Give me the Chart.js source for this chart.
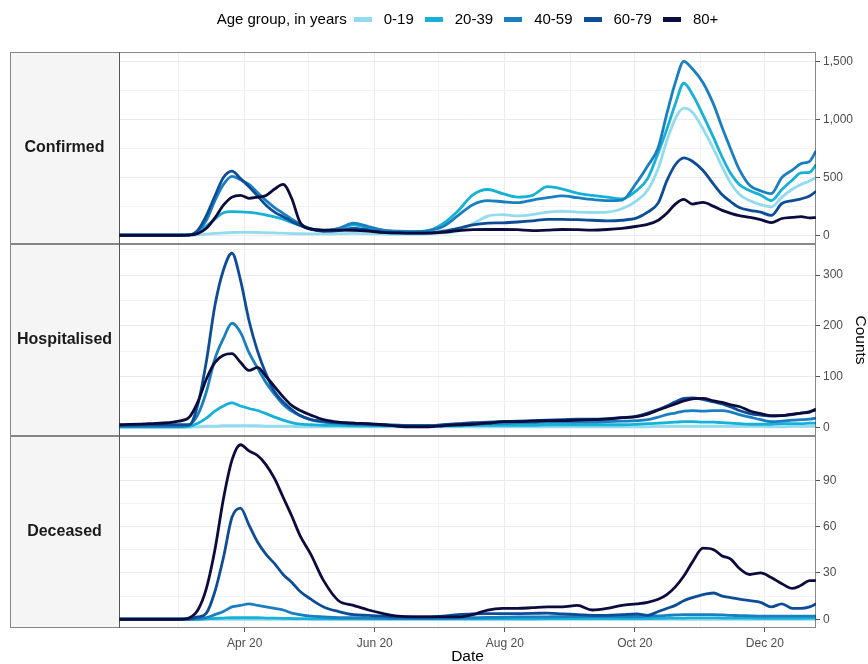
<!DOCTYPE html>
<html>
<head>
<meta charset="utf-8">
<script src="https://cdn.jsdelivr.net/npm/chart.js@4.4.1/dist/chart.umd.min.js"></script>
<style>
  html, body { margin: 0; padding: 0; background: #ffffff; }
  #wrap { position: relative; width: 868px; height: 664px; font-family: "Liberation Sans", Arial, sans-serif; }
  #chart { position: absolute; left: 0; top: 0; }
  #legend { position: absolute; left: 119px; width: 697px; top: 10px; height: 18px;
            display: flex; justify-content: center; align-items: center;
            font-size: 15px; line-height: 18px; color: #000; white-space: nowrap; }
  #legend .title { margin-right: 7px; }
  #legend .key { display: inline-block; width: 18px; height: 5px; margin-right: 12px; }
  #legend .lab { margin-right: 11px; }
  #legend .lab:last-child { margin-right: 0; }
</style>
</head>
<body>
<div id="wrap">
  <canvas id="chart" width="868" height="664"></canvas>
  <div id="legend"></div>
</div>
<script>
// ---- data -------------------------------------------------------------
const dates = [
  '2020-02-02','2020-02-16','2020-03-01','2020-03-06','2020-03-10','2020-03-14','2020-03-18','2020-03-22','2020-03-26','2020-03-30',
  '2020-04-03','2020-04-07','2020-04-11','2020-04-15','2020-04-19','2020-04-23','2020-04-27','2020-05-02','2020-05-08','2020-05-15',
  '2020-05-22','2020-05-29','2020-06-05','2020-06-12','2020-06-19','2020-06-26','2020-07-03','2020-07-10','2020-07-17','2020-07-24',
  '2020-07-31','2020-08-07','2020-08-14','2020-08-21','2020-08-28','2020-09-04','2020-09-11','2020-09-18','2020-09-25','2020-10-02',
  '2020-10-07','2020-10-12','2020-10-16','2020-10-20','2020-10-24','2020-10-28','2020-11-02','2020-11-07','2020-11-11','2020-11-15',
  '2020-11-19','2020-11-24','2020-11-29','2020-12-04','2020-12-09','2020-12-14','2020-12-18','2020-12-22','2020-12-25'
];

const ageGroups = ['0-19', '20-39', '40-59', '60-79', '80+'];
const facetNames = ['Confirmed', 'Hospitalised', 'Deceased'];

// month starts used as date breaks; labelled ones get "Mon YY"
const monthBreaks = ['2020-03-01','2020-04-01','2020-05-01','2020-06-01','2020-07-01',
                     '2020-08-01','2020-09-01','2020-10-01','2020-11-01','2020-12-01'];
const labelledMonths = ['2020-04-01','2020-06-01','2020-08-01','2020-10-01','2020-12-01'];

// Confirmed cases
const confirmed0to19 = [0,0,0,1,4,10,16,21,24,25, 25,24,22,20,18,15,13,12,12,14, 16,14,12,10,10,12,20,35,100,165,
  178,168,180,200,208,200,197,200,230,300, 390,580,815,1010,1100,1065,920,745,590,450, 355,298,265,245,330,400,440,470,500];
const confirmed20to39 = [0,0,0,3,25,80,140,195,205,203, 198,190,175,160,140,110,85,55,42,55, 90,65,40,33,32,40,100,210,350,396,
  360,330,345,420,400,365,345,330,315,390, 490,715,916,1135,1315,1220,1040,842,675,534, 440,385,348,300,395,480,540,545,610];
const confirmed40to59 = [0,0,0,3,35,130,300,440,510,480, 440,370,300,240,190,140,95,55,40,60, 105,75,45,35,32,40,75,170,265,300,
  290,282,305,325,340,325,310,300,305,460, 600,760,1050,1320,1505,1440,1320,1130,930,745, 570,430,385,360,500,565,620,640,730];
const confirmed60to79 = [0,0,0,3,45,170,340,500,555,490, 420,340,260,200,160,120,85,50,35,40, 60,45,25,20,18,20,35,60,90,105,
  108,115,125,138,138,135,130,125,130,150, 200,280,470,610,670,640,560,440,350,290, 240,215,200,172,275,300,315,340,380];
const confirmed80plus = [0,0,0,1,15,60,150,260,330,345, 320,330,345,400,440,320,110,55,45,45, 42,35,25,20,18,18,25,40,48,50,
  50,48,40,45,50,48,45,50,60,78, 95,130,190,270,310,270,285,250,215,190, 170,155,135,110,145,155,162,150,153];

// Hospitalisations
const hospitalised0to19 = [0,0,0,0,1,2,2,3,3,3, 3,3,2,2,2,2,1,1,1,1, 1,1,1,1,1,1,1,1,1,1,
  1,1,1,1,1,1,1,1,1,1, 1,2,2,2,2,2,2,2,2,2, 2,2,2,1,1,2,2,2,2];
const hospitalised20to39 = [1,1,1,2,8,18,32,42,48,42, 37,33,27,20,14,9,6,5,4,4, 3,3,3,3,3,3,3,3,4,4,
  4,4,4,5,5,5,5,5,5,6, 7,8,9,10,11,11,10,10,9,8, 7,6,6,6,7,7,7,8,8];
const hospitalised40to59 = [2,2,2,5,25,70,135,175,205,187, 147,117,88,65,45,32,23,15,10,8, 6,5,4,3,3,3,4,5,6,7,
  8,9,9,10,10,10,10,11,12,13, 15,20,25,28,32,33,32,33,33,30, 25,20,15,11,12,14,15,16,18];
const hospitalised60to79 = [4,5,5,5,45,130,240,310,343,290, 210,150,105,70,50,35,23,15,12,9, 8,6,5,4,3,3,5,7,9,10,
  11,12,13,14,15,16,16,17,19,22, 28,35,42,50,57,58,55,50,46,40, 33,27,24,22,23,25,28,31,34];
const hospitalised80plus = [5,7,12,20,50,95,128,142,145,128, 112,118,100,80,60,43,33,24,15,10, 8,7,5,2,1,1,3,5,6,8,
  11,11,12,13,13,14,15,16,19,21, 26,34,40,46,52,56,57,52,49,44, 41,32,27,23,23,26,28,30,36];

// Deaths
const deceased0to19 = [0,0,0,0,0,0,0,0,0,0, 0,0,0,0,0,0,0,0,0,0, 0,0,0,0,0,0,0,0,0,0,
  0,0,0,0,0,0,0,0,0,0, 0,0,0,0,0,0,0,0,0,0, 0,0,0,0,0,0,0,0,0];
const deceased20to39 = [0,0,0,0,0,0.3,0.5,0.8,1,1, 1,1,0.8,0.7,0.6,0.5,0.4,0.3,0.3,0.2, 0.2,0.2,0.2,0.2,0.2,0.2,0.2,0.2,0.3,0.3,
  0.3,0.3,0.3,0.4,0.4,0.4,0.4,0.4,0.4,0.5, 0.5,0.6,0.7,0.8,0.8,0.9,0.9,0.9,0.8,0.8, 0.7,0.7,0.6,0.6,0.6,0.6,0.6,0.7,0.7];
const deceased40to59 = [0,0,0,0,0.3,1,3,5,8,9, 10,9,8,7,6,4,3,2,1.5,1, 1,0.8,0.6,0.5,0.5,0.5,0.6,0.8,1,1.2,
  1.3,1.5,1.5,1.6,1.7,1.7,1.8,1.8,1.8,1.8, 2,2.2,2.5,2.8,3,3,3,3,2.8,2.5, 2.4,2.2,2,2,2,2,2,2,2];
const deceased60to79 = [0,0,0,0.3,1.5,4,18,40,66,72, 61,50,42,36,29,24,18,13,8,5, 3,2.5,2,1.5,1.5,1.5,2,3,3.5,3.7,
  3.7,3.7,3.8,4,3.5,3,2.5,2.5,3,3.5, 2.5,5,7,9,12,14,16,17,15,14, 13,12,11,8,10,7,7,8,10];
const deceased80plus = [0,0,0,1,6,20,45,78,103,113, 109,106,100,91,79,67,54,42,25,12, 9,6,3.7,2,1.5,1.5,1.5,1.5,3,6,
  7,7,7.5,8,8,9,6,7,9,10, 11,13,16,21,28,37,46,45,41,39, 33,29,30,27,23,20,22,25,25];

// ---- helpers ----------------------------------------------------------
const DAY = 864e5;
const dayOf = s => (Date.UTC(+s.slice(0, 4), +s.slice(5, 7) - 1, +s.slice(8, 10)) - Date.UTC(2020, 0, 1)) / DAY;
const MONTHS = ['Jan','Feb','Mar','Apr','May','Jun','Jul','Aug','Sep','Oct','Nov','Dec'];
const labelledDays = labelledMonths.map(dayOf);
const isLabelledDay = v => labelledDays.some(d => Math.abs(d - v) < 0.01);
const dayLabel = v => {
  const dt = new Date(Date.UTC(2020, 0, 1) + v * DAY);
  return MONTHS[dt.getUTCMonth()] + ' ' + String(dt.getUTCFullYear()).slice(2);
};

const colours = ['#93DBEF', '#17B1D8', '#1A7FC1', '#0D4C96', '#0B0C3D'];

const facets = [
  { id: 'yConfirmed',    min: -75.5, max: 1585.5, major: 500, minor: 250,
    series: [confirmed0to19, confirmed20to39, confirmed40to59, confirmed60to79, confirmed80plus] },
  { id: 'yHospitalised', min: -17.2, max: 361.2,  major: 100, minor: 50,
    series: [hospitalised0to19, hospitalised20to39, hospitalised40to59, hospitalised60to79, hospitalised80plus] },
  { id: 'yDeceased',     min: -5.65, max: 118.65, major: 30,  minor: 15,
    series: [deceased0to19, deceased20to39, deceased40to59, deceased60to79, deceased80plus] }
];

// ---- legend (HTML) ----------------------------------------------------
const legend = document.getElementById('legend');
legend.innerHTML = '<span class="title">Age group, in years</span>' +
  ageGroups.map((g, i) => '<span class="key" style="background:' + colours[i] + '"></span><span class="lab">' + g + '</span>').join('');

// ---- chart ------------------------------------------------------------
Chart.defaults.font.family = "'Liberation Sans', Arial, sans-serif";

const xDays = dates.map(dayOf);
const datasets = [];
facets.forEach((f, fi) => {
  f.series.forEach((vals, g) => {
    datasets.push({
      label: facetNames[fi] + ' ' + ageGroups[g],
      data: vals.map((y, k) => ({ x: xDays[k], y })),
      xAxisID: 'x',
      yAxisID: f.id,
      borderColor: colours[g],
      backgroundColor: colours[g],
      borderWidth: 2.8,
      pointRadius: 0,
      fill: false,
      cubicInterpolationMode: 'monotone',
      order: ageGroups.length - g
    });
  });
});

const gridColour = (major) => major ? '#EBEBEB' : '#F3F3F3';

const scales = {
  x: {
    type: 'linear', position: 'bottom',
    min: dayOf(dates[0]), max: dayOf(dates[dates.length - 1]),
    afterFit: s => { s.height = 36; },
    afterBuildTicks: s => { s.ticks = monthBreaks.map(d => ({ value: dayOf(d) })); },
    grid: {
      color: c => gridColour(c.tick && isLabelledDay(c.tick.value)),
      lineWidth: 1,
      tickLength: 4,
      tickColor: c => (c.tick && isLabelledDay(c.tick.value)) ? '#555555' : 'rgba(0,0,0,0)'
    },
    border: { display: false },
    ticks: {
      autoSkip: false, maxRotation: 0, padding: 4, color: '#4D4D4D', font: { size: 12 },
      callback: v => isLabelledDay(v) ? dayLabel(v) : ''
    },
    title: { display: true, text: 'Date', color: '#000000', font: { size: 15.5, lineHeight: 1 }, padding: { top: 0, bottom: 0 } }
  }
};

facets.forEach((f, i) => {
  scales[f.id] = {
    type: 'linear', position: 'right', stack: 'facets', stackWeight: 1, weight: i,
    min: f.min, max: f.max,
    afterFit: s => { s.width = 52; },
    afterBuildTicks: s => {
      const t = [];
      for (let v = 0; v <= f.max; v += f.minor) t.push({ value: v });
      s.ticks = t;
    },
    grid: {
      color: c => gridColour(c.tick && c.tick.value % f.major === 0),
      lineWidth: 1,
      tickLength: 4,
      tickColor: c => (c.tick && c.tick.value % f.major === 0) ? '#555555' : 'rgba(0,0,0,0)'
    },
    border: { display: false },
    ticks: {
      autoSkip: false, padding: 3, color: '#4D4D4D', font: { size: 12 },
      callback: v => v % f.major === 0 ? v.toLocaleString('en-US') : ''
    },
    title: i === 1
      ? { display: true, text: 'Counts', color: '#000000', font: { size: 15.5, lineHeight: 1 }, padding: { top: 0, bottom: 0 } }
      : { display: false }
  };
});

// facet strips on the left and panel frames
const STRIP_LEFT = 10;
const facetFrames = {
  id: 'facetFrames',
  beforeDraw(chart) {
    const ctx = chart.ctx;
    const area = chart.chartArea;
    ctx.save();
    ctx.fillStyle = '#F5F5F5';
    facets.forEach(f => {
      const s = chart.scales[f.id];
      ctx.fillRect(STRIP_LEFT, s.top, area.left - STRIP_LEFT, s.bottom - s.top);
    });
    ctx.restore();
  },
  afterDatasetsDraw(chart) {
    const ctx = chart.ctx;
    const area = chart.chartArea;
    ctx.save();
    ctx.lineWidth = 1;
    ctx.strokeStyle = 'rgba(40,40,40,0.55)';
    facets.forEach(f => {
      const s = chart.scales[f.id];
      const top = Math.round(s.top) + 0.5, bottom = Math.round(s.bottom) - 0.5;
      ctx.strokeRect(Math.round(area.left) + 0.5, top, Math.round(area.right - area.left) - 1, bottom - top);
      ctx.strokeRect(STRIP_LEFT + 0.5, top, Math.round(area.left - STRIP_LEFT), bottom - top);
    });
    ctx.fillStyle = '#1A1A1A';
    ctx.font = "bold 16px 'Liberation Sans', Arial, sans-serif";
    ctx.textAlign = 'center';
    ctx.textBaseline = 'middle';
    facets.forEach((f, i) => {
      const s = chart.scales[f.id];
      ctx.fillText(facetNames[i], (STRIP_LEFT + area.left) / 2, (s.top + s.bottom) / 2);
    });
    ctx.restore();
  }
};

new Chart(document.getElementById('chart'), {
  type: 'line',
  data: { datasets },
  options: {
    responsive: false,
    animation: false,
    devicePixelRatio: 1,
    events: [],
    layout: { padding: { left: 119, top: 52, right: 0, bottom: 0 } },
    plugins: { legend: { display: false }, tooltip: { enabled: false } },
    scales
  },
  plugins: [facetFrames]
});
</script>
</body>
</html>
